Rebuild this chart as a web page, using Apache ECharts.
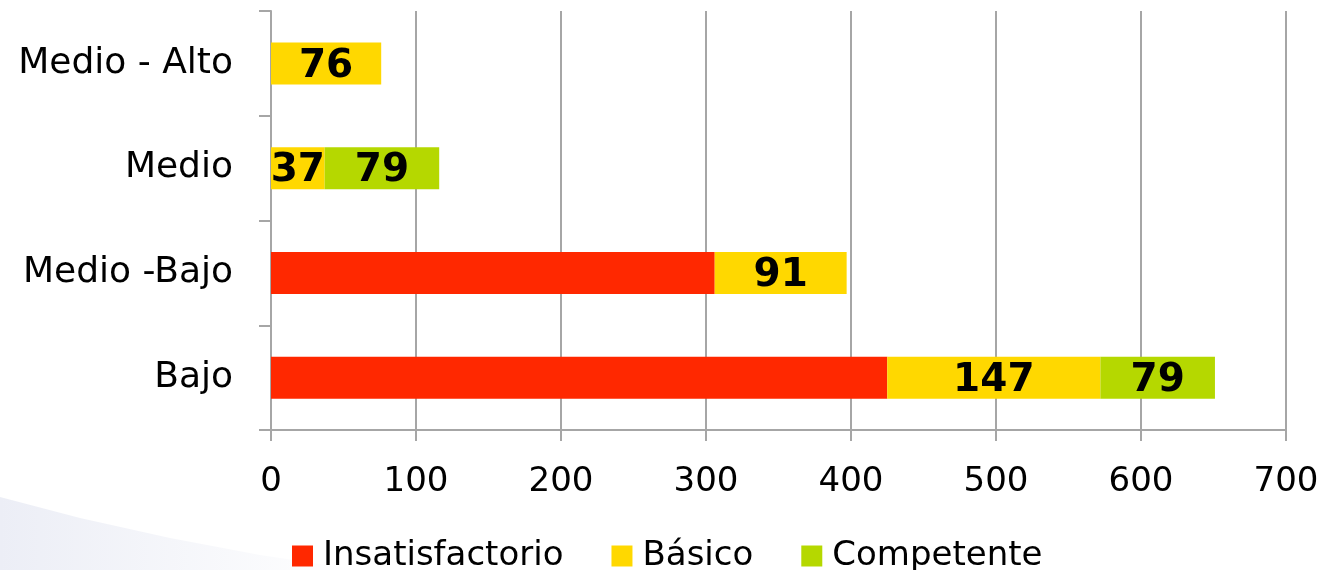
<!DOCTYPE html>
<html>
<head>
<meta charset="utf-8">
<script src="https://cdn.jsdelivr.net/npm/echarts@6/dist/echarts.min.js"></script>
<style>
html,body{margin:0;padding:0;background:#fff;}
#chart{width:1322px;height:570px;}
</style>
</head>
<body>
<div id="chart"></div>
<script>
const categories = ['Bajo', 'Medio -Bajo', 'Medio', 'Medio - Alto'];
const insatisfactorio = [425, 306, 0, 0];
const basico = [147, 91, 37, 76];
const competente = [79, 0, 79, 0];
const xTicks = [0, 100, 200, 300, 400, 500, 600, 700];

const FONT = "'DejaVu Sans', sans-serif";
const GRAY = '#a6a6a6';

const chart = echarts.init(document.getElementById('chart'));

const labelStyle = {
  show: true,
  position: 'inside',
  offset: [0, 3],
  color: '#000',
  fontFamily: FONT,
  fontWeight: 'bold',
  fontSize: 39,
  formatter: p => (p.value ? p.value : '')
};

chart.setOption({
  backgroundColor: '#fff',
  animation: false,
  graphic: [{
    type: 'polygon',
    z: -10,
    silent: true,
    shape: { points: [[0, 497], [80, 518], [170, 538], [260, 555], [360, 570], [0, 570]] },
    style: {
      fill: {
        type: 'linear', x: 0, y: 0, x2: 1, y2: 0,
        colorStops: [
          { offset: 0, color: '#eceef6' },
          { offset: 1, color: '#ffffff' }
        ]
      }
    }
  }],
  grid: { left: 271, right: 36, top: 11, bottom: 140, containLabel: false },
  legend: {
    left: 287,
    top: 534,
    itemWidth: 21,
    itemHeight: 21,
    itemGap: 48,
    icon: 'rect',
    textStyle: { fontFamily: FONT, fontSize: 34, color: '#000', padding: [0, 0, 0, 5] },
    data: ['Insatisfactorio', 'Básico', 'Competente']
  },
  xAxis: {
    type: 'value',
    min: xTicks[0],
    max: xTicks[xTicks.length - 1],
    interval: 100,
    axisLine: { show: true, lineStyle: { color: GRAY, width: 2 } },
    axisTick: { show: true, length: 11, lineStyle: { color: GRAY, width: 2 } },
    splitLine: { show: true, lineStyle: { color: GRAY, width: 2 } },
    axisLabel: { fontFamily: FONT, fontSize: 34, color: '#000', margin: 35 }
  },
  yAxis: {
    type: 'category',
    data: categories,
    axisLine: { show: true, lineStyle: { color: GRAY, width: 2 } },
    axisTick: { show: true, length: 12, lineStyle: { color: GRAY, width: 2 } },
    axisLabel: { fontFamily: FONT, fontSize: 36, color: '#000', margin: 38, padding: [9, 0, 0, 0] }
  },
  series: [
    {
      name: 'Insatisfactorio', type: 'bar', stack: 'total', barWidth: 42,
      itemStyle: { color: '#ff2800' },
      label: { show: false },
      data: insatisfactorio
    },
    {
      name: 'Básico', type: 'bar', stack: 'total', barWidth: 42,
      itemStyle: { color: '#ffd800' },
      label: labelStyle,
      data: basico
    },
    {
      name: 'Competente', type: 'bar', stack: 'total', barWidth: 42,
      itemStyle: { color: '#b5d800' },
      label: labelStyle,
      data: competente
    }
  ]
});
</script>
</body>
</html>
